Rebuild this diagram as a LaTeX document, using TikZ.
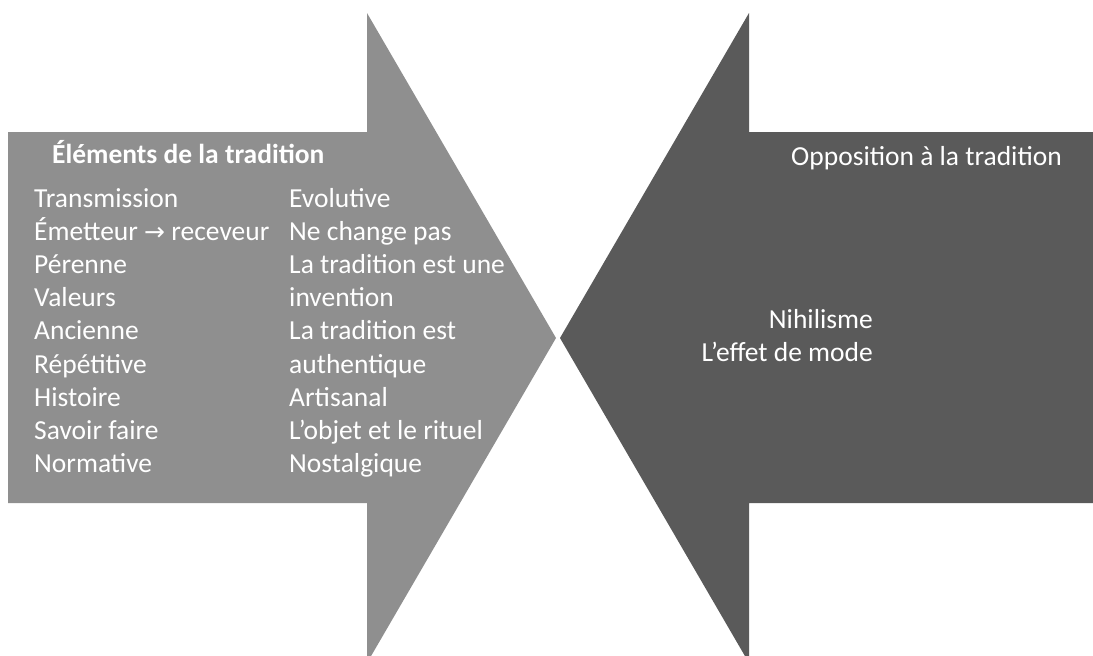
\documentclass[tikz,border=0pt]{standalone}
\usepackage{fontspec}
\setmainfont{Carlito}
\newfontfamily\arrowfont{DejaVu Sans}
\usetikzlibrary{positioning}
\definecolor{leftgray}{HTML}{8F8F8F}
\definecolor{rightgray}{HTML}{5A5A5A}

\begin{document}
\begin{tikzpicture}[x=1pt,y=-1pt,
    item/.style={anchor=base west,inner sep=0,text=white,font=\fontsize{27.5}{33}\selectfont}]
    \useasboundingbox (0,0) rectangle (1093,656);
    \clip (0,0) rectangle (1093,656);
    % the two arrows
    \fill[leftgray] (8,132) -- (367,132) -- (367,13) -- (556,338) -- (367,663) -- (367,503) -- (8,503) -- cycle;
    \fill[rightgray] (1093,132) -- (749,132) -- (749,13) -- (560,338) -- (749,663) -- (749,503) -- (1093,503) -- cycle;
    % left arrow text
    \node[item,font=\bfseries\fontsize{27.5}{33}\selectfont] (title) at (52,163) {Éléments de la tradition};
    \foreach \a/\b [count=\i from 0] in {Transmission/Evolutive,
        {Émetteur {\arrowfont\fontsize{25}{30}\selectfont →} receveur}/Ne change pas,
        Pérenne/La tradition est une, Valeurs/invention,
        Ancienne/La tradition est, Répétitive/authentique,
        Histoire/Artisanal, Savoir faire/L’objet et le rituel,
        Normative/Nostalgique}
    {
        \node[item] (lcol\i) at (34,207+33.2*\i) {\a};
        \node[item] (rcol\i) at (289,207+33.2*\i) {\b};
    }
    % right arrow text
    \node[item] (oppo) at (791,165) {Opposition à la tradition};
    \node[item,anchor=base east] (nihil) at (873,328) {Nihilisme};
    \node[item,anchor=base east] (mode) at (873,361) {L’effet de mode};
\end{tikzpicture}
\end{document}
